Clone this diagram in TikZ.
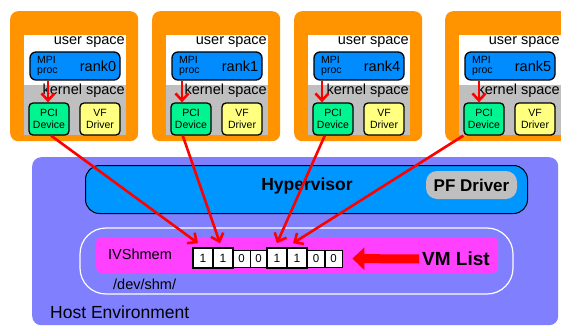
\documentclass[tikz,border=0pt]{standalone}
\usepackage{fontspec}
\setmainfont{Liberation Sans}
\usetikzlibrary{arrows.meta,calc}

\definecolor{vmorange}{RGB}{255,147,0}
\definecolor{kgray}{RGB}{191,191,191}
\definecolor{mpiblue}{RGB}{0,140,255}
\definecolor{hvblue}{RGB}{0,150,255}
\definecolor{pcigreen}{RGB}{0,245,145}
\definecolor{vfyellow}{RGB}{255,255,128}
\definecolor{hostlav}{RGB}{128,128,255}
\definecolor{shmmag}{RGB}{255,64,255}
\definecolor{arrowred}{RGB}{255,0,0}

\tikzset{
  vmbox/.style={rectangle, rounded corners=8pt, fill=vmorange, minimum width=128pt, minimum height=130pt, anchor=north west, inner sep=0pt},
  mpibox/.style={rectangle, rounded corners=6pt, fill=mpiblue, draw=black, line width=1.3pt, minimum width=90pt, minimum height=28pt, inner sep=0pt},
  pcibox/.style={rectangle, rounded corners=4pt, fill=pcigreen, draw=black, line width=1.3pt, minimum width=40pt, minimum height=32pt, inner sep=0pt, align=center, font=\fontsize{10.5}{11.5}\selectfont},
  vfbox/.style={pcibox, fill=vfyellow},
  spacelabel/.style={anchor=east, inner sep=0pt, font=\fontsize{14.5}{16}\selectfont},
  redarrow/.style={draw=arrowred, line width=2.6pt, -{Straight Barb[length=7pt,width=13pt,line width=2.6pt]}},
  bitbig/.style={rectangle, draw=black, fill=white, line width=1.6pt, minimum size=20pt, inner sep=0pt, font=\fontsize{12}{12}\selectfont},
  bitsmall/.style={rectangle, draw=black, fill=white, line width=0.8pt, minimum size=17pt, inner sep=0pt, font=\fontsize{11.5}{12}\selectfont},
  plainlabel/.style={inner sep=0pt, anchor=west}
}

\begin{document}
\begin{tikzpicture}[x=1pt,y=-1pt]
\useasboundingbox (0,0) rectangle (561,326);
\clip (0,0) rectangle (561,326);

% host environment background
\node[rectangle, rounded corners=9pt, fill=hostlav, minimum width=526pt, minimum height=168pt, anchor=north west, inner sep=0pt] (host) at (32,157) {};
\node[plainlabel, font=\fontsize{17.5}{19}\selectfont] (hostlabel) at (50,312) {Host Environment};

% hypervisor with PF driver
\node[rectangle, rounded corners=14pt, fill=hvblue, draw=black, line width=1pt, minimum width=442pt, minimum height=48pt, anchor=north west, inner sep=0pt] (hv) at (85,165) {};
\node[inner sep=0pt, font=\bfseries\fontsize{17.5}{19}\selectfont] (hvlabel) at (307,186) {Hypervisor};
\node[rectangle, rounded corners=11pt, fill=kgray, minimum width=91pt, minimum height=28pt, inner sep=0pt, font=\bfseries\fontsize{17}{19}\selectfont] (pf) at (471.5,185) {PF Driver};

% shared memory region
\node[rectangle, rounded corners=26pt, draw=white, line width=1.2pt, minimum width=433pt, minimum height=66pt, inner sep=0pt] (shm) at (296.5,261) {};
\node[rectangle, rounded corners=5pt, fill=shmmag, minimum width=402pt, minimum height=36pt, inner sep=0pt] (ivs) at (297,255) {};
\node[plainlabel, font=\fontsize{14.5}{16}\selectfont] (ivslabel) at (108,254) {IVShmem};
\node[plainlabel, font=\fontsize{14.5}{16}\selectfont] (shmlabel) at (113,284) {/dev/shm/};

% VM list bitmap
\node[bitsmall] (b3) at (241.5,258.5) {0};
\node[bitsmall] (b4) at (258.5,258.5) {0};
\node[bitsmall] (b7) at (316,258.5) {0};
\node[bitsmall] (b8) at (333.5,258.5) {0};
\node[bitbig] (b1) at (203,258) {1};
\node[bitbig] (b2) at (223,258) {1};
\node[bitbig] (b5) at (277,258) {1};
\node[bitbig] (b6) at (297,258) {1};

\node[inner sep=0pt, font=\bfseries\fontsize{19}{21}\selectfont] (vmlist) at (456,259) {VM List};
\draw[arrowred, line width=9pt, -{Triangle[length=12pt,width=22pt]}, shorten >=10pt] ([xshift=-3pt]vmlist.west) -- (b8.east);

% guest VMs
\foreach \i/\ox/\rk in {0/10/rank0, 1/152/rank1, 2/294/rank4, 3/445/rank5}{
  \node[vmbox] (vm\i) at (\ox,11) {};
  \fill[white] ({\ox+14},35) rectangle ({\ox+116},85);
  \fill[kgray] ({\ox+14},85) rectangle ({\ox+116},135);
  \node[spacelabel] (us\i) at ({\ox+115},42) {user space};
  \node[spacelabel] (ks\i) at ({\ox+115},91) {kernel space};
  \node[mpibox] (mpi\i) at ({\ox+65},66) {};
  \node[inner sep=0pt, anchor=west, align=left, font=\fontsize{10.5}{10}\selectfont] (mp\i) at ({\ox+27},66) {MPI\\proc};
  \node[inner sep=0pt, font=\fontsize{14.5}{16}\selectfont] (rk\i) at ({\ox+88},66) {\rk};
  \node[pcibox] (pci\i) at ({\ox+39},119) {PCI\\Device};
  \node[vfbox] (vf\i) at ({\ox+90},119) {VF\\Driver};
}

% process to device inside each VM
\draw[redarrow] (mpi0.south -| 48,0) -- (pci0.north -| 48,0);
\draw[redarrow] (mpi1.south -| 182,0) -- (pci1.north -| 182,0);
\draw[redarrow] (mpi2.south -| 322,0) -- (pci2.north -| 322,0);
\draw[redarrow] (mpi3.south -| 479,0) -- (pci3.north -| 479,0);

% devices mark their bit in the VM list
\draw[redarrow] ($(pci0.south west)!0.55!(pci0.south east)$) -- ([xshift=-5pt,yshift=4pt]b1.north);
\draw[redarrow] ($(pci1.south west)!0.3!(pci1.south east)$) -- ([xshift=-3pt,yshift=4pt]b2.north);
\draw[redarrow] ($(pci2.south west)!0.3!(pci2.south east)$) -- ([yshift=4pt]b5.north);
\draw[redarrow] (pci3.south west) -- ([xshift=-4pt,yshift=4pt]b6.north);
\end{tikzpicture}
\end{document}
